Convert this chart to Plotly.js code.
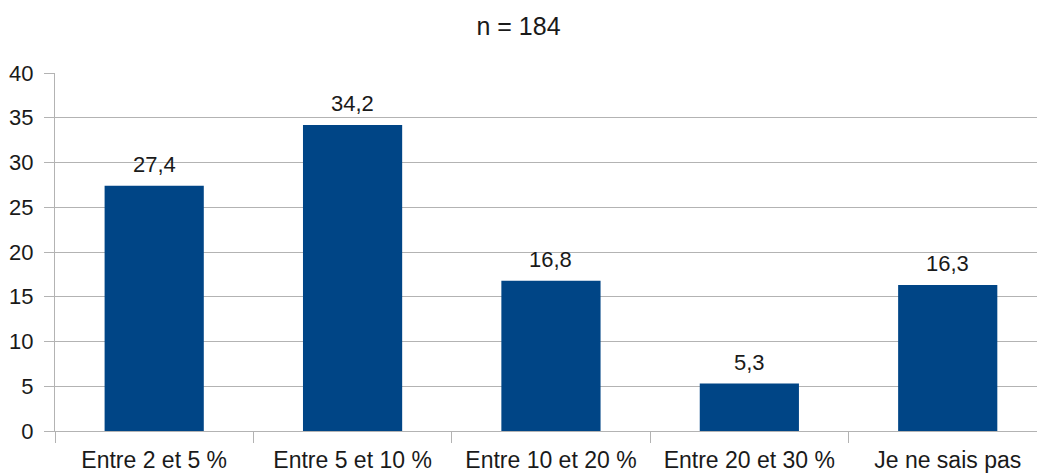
<!DOCTYPE html>
<html>
<head>
<meta charset="utf-8">
<script src="https://cdn.plot.ly/plotly-3.0.1.min.js"></script>
<style>html,body{margin:0;padding:0;background:#fff;}#chart{width:1037px;height:473px;}</style>
</head>
<body>
<div id="chart"></div>
<script>
const categories = ["Entre 2 et 5 %", "Entre 5 et 10 %", "Entre 10 et 20 %", "Entre 20 et 30 %", "Je ne sais pas"];
const values = [27.4, 34.2, 16.8, 5.3, 16.3];
const valueLabels = ["27,4", "34,2", "16,8", "5,3", "16,3"];
const yTicks = [0, 5, 10, 15, 20, 25, 30, 35, 40];
const chartTitle = "n = 184";

const font = "Liberation Sans, Arial, sans-serif";
const grid = "#b3b3b3";
const ink = "#1a1a1a";

const trace = {
  type: "bar",
  x: categories,
  y: values,
  marker: {color: "#004586", line: {width: 0}},
  width: 0.5,
  hoverinfo: "skip"
};

const annotations = categories.map((c, i) => ({
  x: c, y: values[i], xref: "x", yref: "y",
  text: valueLabels[i], showarrow: false,
  yanchor: "bottom", yshift: 7,
  font: {family: font, size: 22, color: ink}
}));

const layout = {
  width: 1037, height: 473,
  margin: {l: 55, r: 0, t: 73, b: 42, pad: 0},
  paper_bgcolor: "#fff", plot_bgcolor: "#fff",
  showlegend: false,
  title: {text: chartTitle, x: 0.5, xanchor: "center", y: 0.944, yref: "container", yanchor: "middle",
          font: {family: font, size: 25, color: ink}},
  xaxis: {
    type: "category",
    range: [-0.5, 4.45],
    tickson: "boundaries",
    ticks: "outside", ticklen: 11, tickcolor: grid, tickwidth: 1,
    ticklabelstandoff: 8,
    showgrid: false,
    showline: true, linecolor: grid, linewidth: 1,
    tickfont: {family: font, size: 23, color: ink},
    fixedrange: true
  },
  yaxis: {
    range: [0, 40],
    tickvals: yTicks,
    ticktext: yTicks.map(String),
    ticks: "outside", ticklen: 10, tickcolor: grid, tickwidth: 1,
    ticklabelstandoff: 6,
    showgrid: true, gridcolor: grid, gridwidth: 1,
    zeroline: false,
    showline: true, linecolor: grid, linewidth: 1,
    tickfont: {family: font, size: 22, color: ink},
    fixedrange: true
  },
  annotations: annotations
};

Plotly.newPlot("chart", [trace], layout, {displayModeBar: false, staticPlot: true});
</script>
</body>
</html>
